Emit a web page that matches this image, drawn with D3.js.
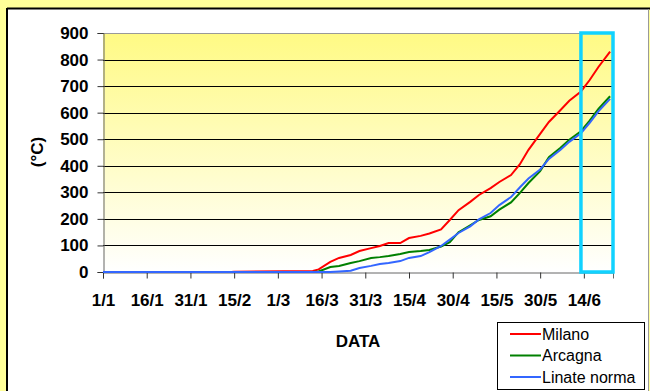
<!DOCTYPE html>
<html>
<head>
<meta charset="utf-8">
<script src="https://cdn.jsdelivr.net/npm/d3@7"></script>
<style>
  body { margin: 0; background: #ffff99; }
  svg { display: block; }
</style>
</head>
<body>
<svg id="chart" width="650" height="391"></svg>
<script>
// Gradi giorno cumulati

const dates = ["1/1","14/2","15/2","13/3","15/3","19/3","22/3","26/3","29/3","2/4","5/4","8/4",
  "12/4","15/4","19/4","22/4","26/4","29/4","2/5","6/5","9/5","13/5","16/5","20/5","23/5",
  "26/5","30/5","2/6","6/6","9/6","13/6","16/6","19/6","23/6"]

const milano = [0,0,1,4,10,38,53,64,79,90,98,109,109,128,136,145,160,196,233,264,290,316,339,
  365,405,460,520,565,610,645,680,723,772,830]
const arcagna = [0,0,0,0,2,19,23,34,41,53,56,60,68,75,79,83,96,112,150,176,196,210,235,262,
  297,335,380,432,468,498,530,570,614,662]
const linate = [0,0,0,0,0,0,2,5,15,23,30,34,41,53,60,75,98,122,147,172,198,222,252,282,318,
  352,386,426,460,490,522,562,605,652]

const seriesNames = ['Milano', 'Arcagna', 'Linate norma']
const seriesColors = ['#ff0000', '#008000', '#3366ff']

const xTickLabels = ['1/1','16/1','31/1','15/2','1/3','16/3','31/3','15/4','30/4','15/5','30/5','14/6']
const yTicks = [0,100,200,300,400,500,600,700,800,900]
const xEnd = '24/6'
const highlight = ['13/6', '24/6']

const parse = s => d3.timeParse('%d/%m/%Y')(s + '/2008')
const font = 'Liberation Sans, Arial, sans-serif'

const svg = d3.select('#chart')

// pannello bianco
svg.append('rect')
  .attr('x', 7).attr('y', 9)
  .attr('width', 642).attr('height', 390)
  .style('fill', '#ffffff')
svg.append('line')
  .attr('x1', 7).attr('y1', 8.5).attr('x2', 650).attr('y2', 8.5)
  .style('stroke', '#000').style('stroke-width', 2)
svg.append('line')
  .attr('x1', 7).attr('y1', 8).attr('x2', 7).attr('y2', 391)
  .style('stroke', '#000').style('stroke-width', 2)
svg.append('line')
  .attr('x1', 648.5).attr('y1', 9).attr('x2', 648.5).attr('y2', 391)
  .style('stroke', '#999').style('stroke-width', 1)

let x = d3.scaleTime()
  .domain([parse('1/1'), parse(xEnd)])
  .range([103, 613])

let y = d3.scaleLinear()
  .domain([0, 900])
  .range([272, 33])

// sfondo area grafico
let grad = svg.append('defs')
  .append('linearGradient')
  .attr('id', 'bg')
  .attr('x1', 0).attr('y1', 0).attr('x2', 0).attr('y2', 1)
grad.append('stop').attr('offset', '0%').attr('stop-color', '#fffa84')
grad.append('stop').attr('offset', '100%').attr('stop-color', '#ffffff')

svg.append('rect')
  .attr('x', x.range()[0]).attr('y', y(900))
  .attr('width', x.range()[1] - x.range()[0])
  .attr('height', y(0) - y(900))
  .style('fill', 'url(#bg)')

// griglia
svg.append('g')
  .attr('id', 'grid')
  .selectAll('line')
  .data(yTicks.filter(d => d > 0))
  .join('line')
  .attr('x1', x.range()[0])
  .attr('x2', x.range()[1])
  .attr('y1', d => Math.round(y(d)) + 0.5)
  .attr('y2', d => Math.round(y(d)) + 0.5)
  .style('stroke', d => d === 900 ? '#999' : '#000')

// asse y
let yAxis = svg.append('g')
  .attr('transform', `translate(${x.range()[0] + 0.5},0)`)
  .call(d3.axisLeft(y).tickValues(yTicks).tickSize(6).tickPadding(9).tickFormat(d3.format('d')))
yAxis.select('.domain').style('stroke', '#666')
yAxis.selectAll('.tick line').style('stroke', '#333')
yAxis.selectAll('text')
  .style('font-family', font)
  .style('font-weight', 'bold')
  .style('font-size', '17px')
  .style('fill', '#000')

// asse x
let xAxis = svg.append('g')
  .attr('transform', `translate(0,${y(0) + 0.5})`)
  .call(d3.axisBottom(x)
    .tickValues(xTickLabels.map(parse))
    .tickSize(6)
    .tickPadding(15)
    .tickFormat((d, i) => xTickLabels[i]))
xAxis.select('.domain').style('stroke', '#666')
xAxis.selectAll('.tick line').style('stroke', '#333')
xAxis.selectAll('text')
  .style('font-family', font)
  .style('font-weight', 'bold')
  .style('font-size', '17px')
  .style('fill', '#000')

// linee
let seriesData = [milano, arcagna, linate].map(vals => vals.map((v, i) => [parse(dates[i]), v]))

svg.append('g')
  .attr('id', 'lines')
  .selectAll('path')
  .data(seriesData)
  .join('path')
  .attr('d', d3.line(d => x(d[0]), d => y(d[1])))
  .style('stroke', (d, i) => seriesColors[i])
  .style('stroke-width', 2)
  .style('fill', 'none')

// riquadro evidenziato
svg.append('rect')
  .attr('x', x(parse(highlight[0])))
  .attr('y', y(900))
  .attr('width', x(parse(highlight[1])) - x(parse(highlight[0])))
  .attr('height', y(0) - y(900))
  .style('fill', 'none')
  .style('stroke', '#11d2ff')
  .style('stroke-width', 3.5)

// titoli assi
svg.append('text')
  .attr('x', 358).attr('y', 347)
  .attr('text-anchor', 'middle')
  .style('font-family', font)
  .style('font-weight', 'bold')
  .style('font-size', '17px')
  .text('DATA')

svg.append('text')
  .attr('transform', 'translate(43,152) rotate(-90)')
  .attr('text-anchor', 'middle')
  .style('font-family', font)
  .style('font-weight', 'bold')
  .style('font-size', '17px')
  .text('(°C)')

// legenda
let legend = svg.append('g').attr('id', 'legend')
legend.append('rect')
  .attr('x', 497.5).attr('y', 322.5)
  .attr('width', 147).attr('height', 67)
  .style('fill', '#fff')
  .style('stroke', '#000')

let items = legend.selectAll('g')
  .data(seriesNames)
  .join('g')
  .attr('transform', (d, i) => `translate(0,${334 + i * 21.5})`)
items.append('line')
  .attr('x1', 510).attr('x2', 541)
  .attr('y1', 0).attr('y2', 0)
  .style('stroke', (d, i) => seriesColors[i])
  .style('stroke-width', 2)
items.append('text')
  .attr('x', 542).attr('y', 5.5)
  .style('font-family', font)
  .style('font-size', '16px')
  .text(d => d)
</script>
</body>
</html>
